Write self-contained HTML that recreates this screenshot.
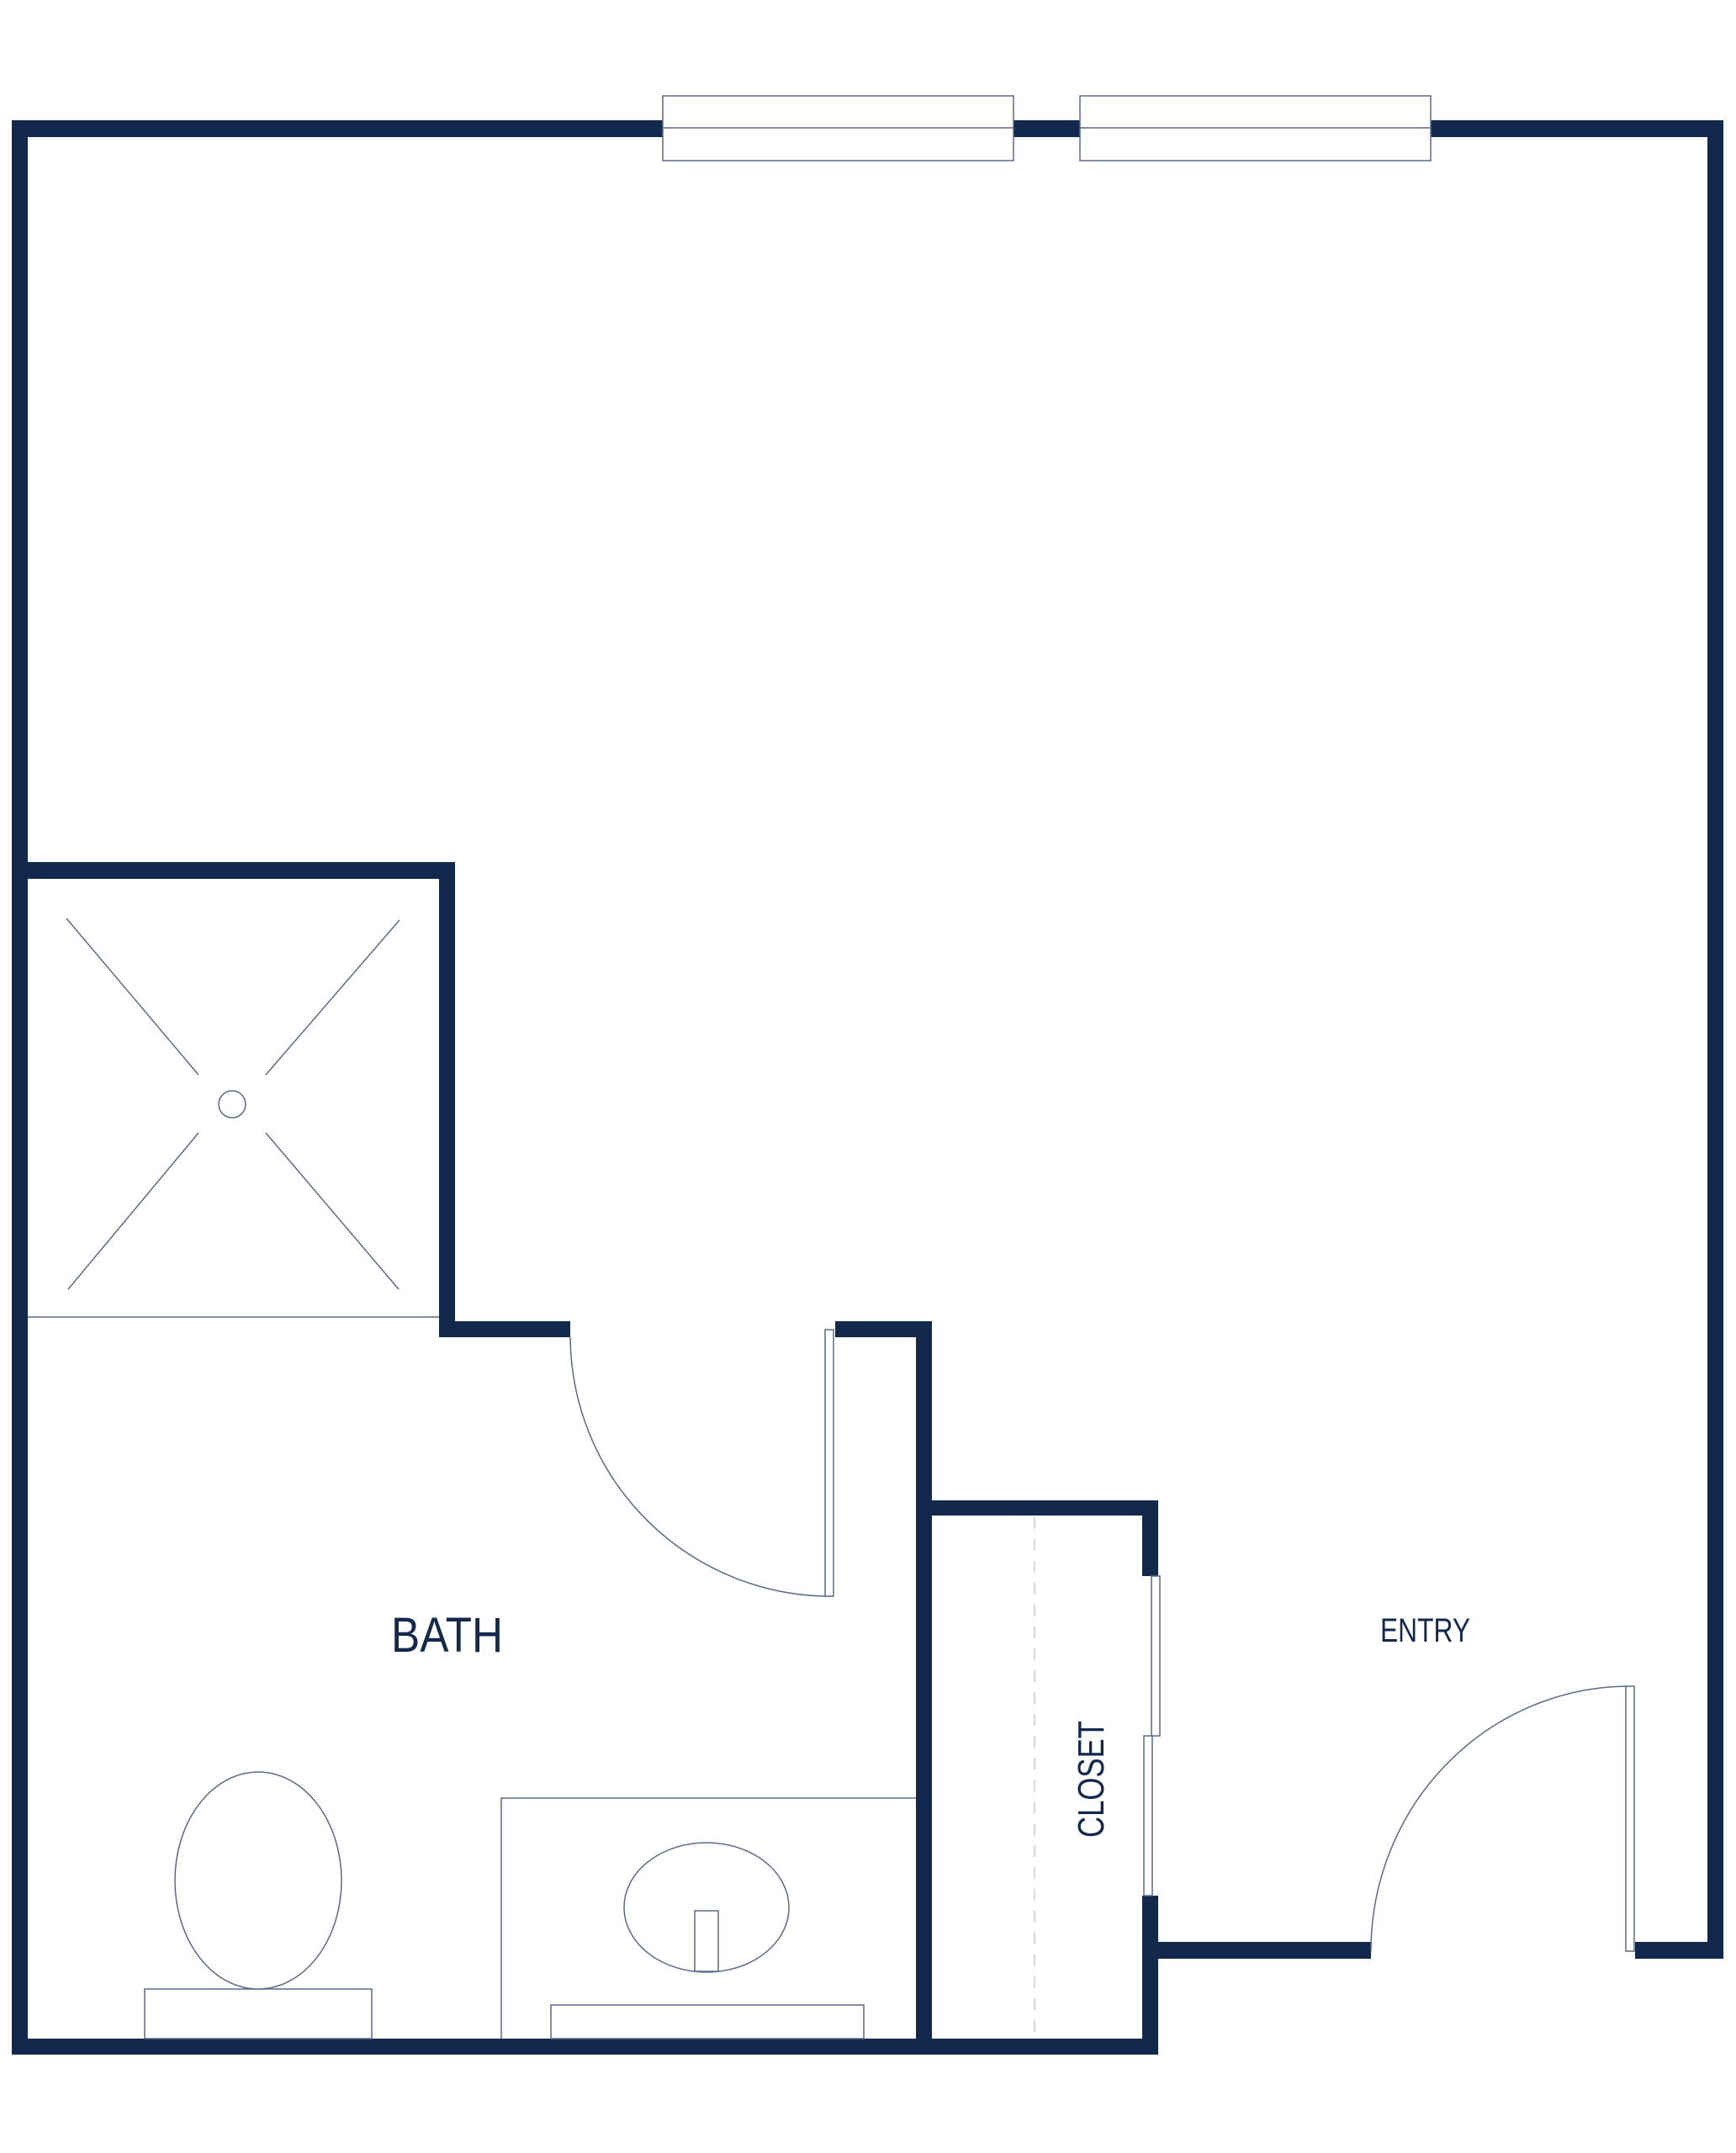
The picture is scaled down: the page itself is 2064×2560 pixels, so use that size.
<!DOCTYPE html>
<html><head><meta charset="utf-8"><style>html,body{margin:0;padding:0;background:#fff}svg{display:block}</style></head>
<body>
<svg width="2064" height="2560" viewBox="0 0 2064 2560" xmlns="http://www.w3.org/2000/svg">
<g fill="#12284c" stroke="none">
<rect x="14" y="143" width="19" height="2300"/>
<rect x="14" y="143" width="2035" height="20"/>
<rect x="2030" y="143" width="19" height="2186"/>
<rect x="14" y="1025" width="527" height="20"/>
<rect x="522" y="1025" width="19" height="565"/>
<rect x="522" y="1571" width="156" height="19"/>
<rect x="993" y="1571" width="115" height="19"/>
<rect x="1089" y="1571" width="19" height="872"/>
<rect x="1089" y="1784" width="288" height="18"/>
<rect x="1358" y="1784" width="19" height="90"/>
<rect x="1358" y="2254" width="19" height="189"/>
<rect x="14" y="2424" width="1363" height="19"/>
<rect x="1358" y="2309" width="272" height="20"/>
<rect x="1944" y="2309" width="105" height="20"/>
</g>
<g fill="#fff" stroke="#5a6a88" stroke-width="1.5">
<rect x="788" y="114" width="417" height="77"/>
<line x1="788" y1="152" x2="1205" y2="152"/>
<rect x="1284" y="114" width="417" height="77"/>
<line x1="1284" y1="152" x2="1701" y2="152"/>
<line x1="33" y1="1566" x2="522" y2="1566"/>
<line x1="79" y1="1092" x2="236" y2="1278"/>
<line x1="475" y1="1094" x2="316" y2="1278"/>
<line x1="236" y1="1347" x2="81" y2="1533"/>
<line x1="316" y1="1347" x2="474" y2="1533"/>
<circle cx="276" cy="1313" r="16"/>
<path d="M678 1590 A310 310 0 0 0 988 1898" fill="none"/>
<rect x="981" y="1581" width="10" height="317"/>
<rect x="172" y="2365" width="270" height="59"/>
<ellipse cx="307" cy="2236" rx="99" ry="129"/>
<path d="M596 2424 L596 2138 L1089 2138" fill="none"/>
<ellipse cx="840" cy="2268" rx="98" ry="77"/>
<rect x="826" y="2272" width="28" height="72"/>
<rect x="655" y="2384" width="372" height="40"/>
<rect x="1369" y="1874" width="10" height="190"/>
<rect x="1360" y="2064" width="10" height="190"/>
<path d="M1938 2005 A308 315 0 0 0 1630 2320" fill="none"/>
<rect x="1933" y="2005" width="10" height="315"/>
</g>
<line x1="1230" y1="1804" x2="1230" y2="2421" stroke="#c8ccd4" stroke-width="1.5" stroke-dasharray="14 12"/>
<g fill="#12284c" font-family="Liberation Sans, sans-serif">
<text x="465" y="1964" font-size="58" textLength="133" lengthAdjust="spacingAndGlyphs">BATH</text>
<text x="1641" y="1952" font-size="40" textLength="107" lengthAdjust="spacingAndGlyphs">ENTRY</text>
<text transform="translate(1312,2185) rotate(-90)" font-size="44" textLength="139" lengthAdjust="spacingAndGlyphs">CLOSET</text>
</g>
</svg>
</body></html>
